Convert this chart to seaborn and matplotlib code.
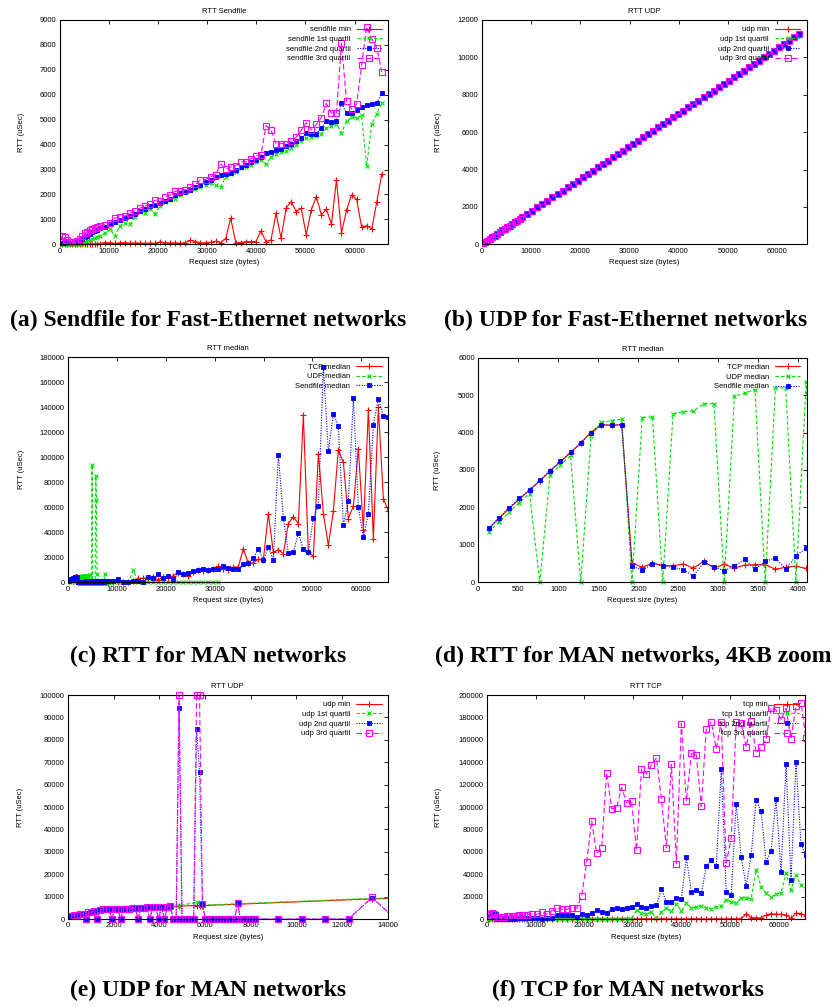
import matplotlib.pyplot as plt
import seaborn as sns
from matplotlib.patches import Rectangle

# Request sizes (bytes)
SIZES_FINE = [128, 256, 384, 512, 640, 768, 896, 1024, 1152, 1280, 1408, 1536, 1664, 1792, 1920, 2048,
              2176, 2304, 2432, 2560, 2688, 2816, 2944, 3072, 3200, 3328, 3456, 3584, 3712, 3840, 3968, 4096,
              4224, 4352, 4480, 4608, 4736, 4864, 4992, 5120, 5248, 5376, 5504, 5632, 5760, 5888, 6016, 6144,
              6272, 6400, 6528, 6656, 6784, 6912, 7040, 7168, 7296, 7424, 7552, 7680, 7808, 7936, 8064, 8192]
SIZES_COARSE = [9216, 10240, 11264, 12288, 13312, 14336, 15360, 16384, 17408, 18432, 19456, 20480, 21504,
                22528, 23552, 24576, 25600, 26624, 27648, 28672, 29696, 30720, 31744, 32768, 33792, 34816,
                35840, 36864, 37888, 38912, 39936, 40960, 41984, 43008, 44032, 45056, 46080, 47104, 48128,
                49152, 50176, 51200, 52224, 53248, 54272, 55296, 56320, 57344, 58368, 59392, 60416, 61440,
                62464, 63488, 64512, 65536]
SIZES_FE = [128, 512, 1024, 1536, 2048, 2560, 3072, 3584, 4096, 4608, 5120, 5632, 6144, 6656, 7168, 7680, 8192]

# (a) Sendfile, Fast-Ethernet (uSec)
SF_MIN = [10, 10, 20, 10, 20, 10, 20, 10, 20, 10, 20, 10, 20, 20, 10, 20, 30,
          70, 60, 40, 60, 70, 40, 60, 50, 40, 50, 40, 100, 60, 50, 60, 40, 70, 160, 110, 60,
          60, 80, 120, 70, 230, 1050, 60, 70, 110, 105, 105, 535, 105, 173, 1247, 240, 1448, 1716,
          1314, 1448, 374, 1380, 1916, 1180, 1408, 804, 2587, 450, 1380, 1984, 1810, 684, 750, 616, 1690, 2829]
SF_Q1 = [0, 0, 0, 0, 0, 0, 0, 0, 10, 30, 80, 130, 180, 220, 270, 300, 350,
         440, 600, 335, 740, 870, 820, 1110, 1290, 1250, 1420, 1230, 1550, 1700, 1780, 1820, 1980, 2090,
         2160, 2210, 2280, 2390, 2450, 2360, 2290, 2720, 2830, 2920, 3080, 3120, 3200, 3310, 3390, 3220,
         3500, 3630, 3690, 3730, 3850, 3970, 4130, 4270, 4290, 4330, 4440, 4650, 4730, 4840, 4470, 4940,
         5100, 5070, 5180, 3130, 4840, 5230, 5670]
SF_Q2 = [50, 60, 60, 70, 70, 70, 80, 80, 100, 200, 280, 350, 420, 480, 530, 580, 640,
         710, 800, 910, 980, 1050, 1140, 1230, 1340, 1420, 1520, 1580, 1650, 1740, 1820, 1980, 2050, 2100,
         2190, 2280, 2390, 2480, 2590, 2700, 2780, 2830, 2880, 2990, 3120, 3180, 3290, 3390, 3500, 3660,
         3720, 3770, 3810, 3930, 4020, 4130, 4250, 4470, 4410, 4440, 4650, 4950, 4910, 4950, 5670, 5260,
         5260, 5400, 5500, 5590, 5620, 5660, 6080]
SF_Q3 = [150, 330, 300, 160, 110, 110, 110, 120, 220, 330, 450, 500, 560, 610, 650, 700, 730,
         780, 845, 1050, 1100, 1140, 1250, 1340, 1450, 1540, 1600, 1770, 1720, 1880, 1970, 2130, 2150, 2190,
         2290, 2410, 2580, 2600, 2710, 2800, 3220, 3020, 3100, 3150, 3300, 3310, 3420, 3550, 3580, 4760,
         4590, 4040, 4040, 4040, 4140, 4300, 4570, 4880, 4590, 4810, 5080, 5650, 5270, 5270, 8070, 5750,
         5430, 5630, 7180, 8730, 8250, 7890, 6920]

# (b) UDP, Fast-Ethernet: all four quartiles coincide
UDP_FE = [50, 115, 200, 290, 380, 470, 560, 650, 740, 830, 915, 1005, 1095, 1185, 1270, 1360, 1450,
          1630, 1805, 1985, 2160, 2340, 2520, 2695, 2875, 3055, 3230, 3410, 3590, 3765, 3945, 4120, 4300,
          4480, 4655, 4835, 5015, 5190, 5370, 5550, 5725, 5905, 6080, 6260, 6440, 6615, 6795, 6975, 7150,
          7330, 7510, 7685, 7865, 8040, 8220, 8400, 8575, 8755, 8935, 9110, 9290, 9470, 9645, 9825, 10000,
          10180, 10360, 10535, 10715, 10895, 11070, 11250]

# (c)/(d)/(f) medians, MAN
TCP_MED = [1430, 1700, 1970, 2220, 2460, 2710, 2970, 3220, 3460, 3720, 4000, 4210, 4200, 4210, 520, 400,
           510, 450, 440, 490, 380, 560, 380, 480, 380, 460, 470, 470, 350, 400, 430, 370,
           400, 450, 500, 420, 480, 520, 450, 400, 500, 550, 470, 430, 500, 520, 480, 450,
           500, 540, 470, 500, 530, 480, 510, 550, 500, 470, 520, 560, 500, 530, 550, 600,
           600, 500, 400, 500, 800, 3200, 3200, 3700, 4000, 1900, 4500, 3700, 5300, 7700, 6400, 5100,
           8500, 9900, 9300, 10000, 10500, 13000, 10500, 10000, 12000, 12500, 26700, 15300, 15500, 18500,
           18000, 55000, 24000, 26000, 23000, 47000, 52500, 47000, 134000, 24500, 21000, 103000, 55000,
           29500, 57000, 106000, 96000, 51000, 61000, 107000, 42000, 138000, 35000, 140000, 67000, 57000]
SF_MED = [1440, 1720, 1990, 2240, 2470, 2720, 2980, 3230, 3470, 3730, 4000, 4210, 4190, 4210, 440, 320,
          490, 440, 400, 340, 170, 530, 420, 310, 440, 610, 350, 560, 650, 350, 700, 920,
          800, 500, 600, 900, 450, 700, 1000, 550, 650, 800, 1200, 600, 700, 900, 500, 750,
          1100, 650, 800, 600, 950, 700, 1300, 800, 600, 900, 1000, 700, 850, 1200, 900, 1000,
          1300, 2400, 500, 500, 1000, 1300, 500, 4300, 3700, 6400, 3200, 5300, 2700, 8000, 6400, 7200,
          9100, 10100, 10700, 9600, 10700, 10700, 13000, 11700, 10700, 10700, 14400, 15200, 19200, 26700,
          17900, 28000, 17900, 101900, 51700, 23200, 24000, 39200, 26400, 24300, 51200, 61100, 172000,
          104700, 134700, 125100, 45900, 65100, 147200, 60000, 36000, 55000, 126000, 147000, 133000, 132000]
UDP_MED = [1350, 1610, 1870, 2130, 2370, 0, 2870, 3130, 3390, 0, 3900, 4270, 4320, 4360, 0, 4400,
           4420, 0, 4490, 4560, 4580, 4770, 4770, 0, 4970, 5050, 5150, 0, 5190, 5190, 0, 5360,
           0, 5500, 5600, 0, 0, 94000, 0, 0, 0, 0, 0, 85000, 65500, 6500,
           0, 0, 0, 0, 0, 0, 0, 0, 0, 0, 0, 7000, 0, 0, 0, 0, 0, 0,
           0, 0, 0, 0, 9500, 0, 0, 0, 0, 0, 0, 0, 0, 0, 0, 0, 0, 0, 0, 0, 0, 0]

# (e) UDP quartiles, MAN
UDP_Q3 = [1400, 1660, 1920, 2180, 2420, 0, 2920, 3180, 3440, 0, 3950, 4320, 4370, 4410, 0, 4450,
          4470, 0, 4540, 4610, 4630, 4820, 4820, 0, 5020, 5100, 5200, 0, 5240, 5240, 0, 5410,
          0, 5550, 5650, 0, 0, 100000, 0, 0, 0, 0, 0, 100000, 100000, 6500,
          0, 0, 0, 0, 0, 0, 0, 0, 0, 0, 0, 7200, 0, 0, 0, 0, 0, 0,
          0, 0, 0, 0, 9700, 0]
UDP_OK_SIZES = [128, 256, 384, 512, 640, 896, 1024, 1152, 1408, 1536, 1664, 1792, 2048, 2176, 2432, 2560,
                2688, 2816, 2944, 3200, 3328, 3456, 3712, 3840, 4096, 4352, 4480, 4864, 5632, 5760, 5888,
                7424, 13312, 16384]
UDP_MAN_MIN = [1300, 1560, 1820, 2080, 2320, 2820, 3080, 3340, 3850, 4220, 4270, 4310, 4350, 4370, 4440,
               4510, 4530, 4720, 4720, 4920, 5000, 5100, 5140, 5140, 5300, 5450, 5550, 5800, 6000, 5900,
               6000, 6600, 9000, 9700]
UDP_MAN_Q1 = [1330, 1590, 1850, 2110, 2350, 2850, 3110, 3370, 3880, 4250, 4300, 4340, 4380, 4400, 4470,
              4540, 4560, 4750, 4750, 4950, 5030, 5130, 5170, 5170, 5340, 5480, 5580, 6000, 7400, 6500,
              6200, 6800, 9200, 9900]

# (f) TCP quartiles, MAN
TCP_MIN = [100, 80, 120, 90, 60, 100, 80, 120, 90, 100, 70, 110, 90, 100, 80, 120, 100,
           150, 200, 100, 180, 120, 200, 150, 100, 180, 200, 150, 120, 200, 180, 150, 100, 200, 150, 180,
           120, 200, 150, 180, 200, 120, 150, 200, 180, 100, 150, 200, 120, 180, 150, 200, 100, 150, 180,
           200, 120, 150, 200, 180, 4500, 1200, 1000, 1000, 3500, 4800, 4200, 4200, 3500, 600, 5300, 4800, 3000]
TCP_Q1 = [300, 200, 250, 200, 150, 200, 250, 200, 150, 200, 250, 200, 300, 250, 200, 300, 250,
          300, 250, 200, 300, 250, 200, 300, 250, 300, 200, 250, 300, 200, 250, 300, 250, 200, 300, 250,
          300, 200, 8000, 5000, 4200, 6500, 900, 6000, 9800, 6800, 13400, 7400, 14000, 10100, 10400, 11900,
          9800, 9200, 11000, 11600, 17000, 15500, 14000, 19000, 18700, 18200, 43800, 28900, 22900, 19900,
          22000, 23500, 40800, 26000, 39300, 30400, 27400]
TCP_Q3 = [3500, 4500, 5000, 4800, 1500, 1700, 1900, 2100, 2300, 2500, 2700, 2900, 3100, 3300, 3500, 3700, 3900,
          4200, 4200, 6000, 4200, 7400, 9500, 8600, 8600, 10100, 9500, 20500, 51000, 87500, 58500, 63500,
          130500, 98500, 99000, 117500, 104000, 105000, 61500, 134000, 129500, 137500, 144000, 107000, 63500,
          138000, 49500, 174500, 105000, 148000, 146500, 100500, 170000, 176000, 152000, 176000, 50000, 72000,
          175500, 175000, 153500, 177000, 148000, 153500, 160500, 188500, 186500, 178000, 188000, 160500,
          190500, 193000, 161500]

sns.set_theme(style="white")
plt.rcParams["font.family"] = ["Liberation Sans", "DejaVu Sans"]
plt.rcParams.update({
    "xtick.direction": "in", "ytick.direction": "in",
    "xtick.top": True, "ytick.right": True,
    "xtick.major.size": 2.6, "ytick.major.size": 2.6,
    "xtick.major.width": 0.6, "ytick.major.width": 0.6,
    "axes.edgecolor": "black", "axes.linewidth": 0.8,
    "xtick.color": "black", "ytick.color": "black",
    "text.color": "black", "axes.labelcolor": "black",
})

W, H = 832, 1007
fig = plt.figure(figsize=(W / 100, H / 100), dpi=100)

RED, GREEN, BLUE, MAGENTA = "#ff0000", "#00e000", "#0000ff", "#ff00ff"
STYLES = {
    "min": dict(color=RED, linestyle="-", marker="+", markersize=4, markeredgewidth=0.8, markeredgecolor=RED),
    "q1": dict(color=GREEN, linestyle=(0, (3, 2)), marker="x", markersize=3.2, markeredgewidth=0.8,
               markeredgecolor=GREEN),
    "q2": dict(color=BLUE, linestyle=(0, (1, 1.3)), marker="s", markersize=2.8, markeredgewidth=0.6,
               markeredgecolor=BLUE, markerfacecolor=BLUE),
    "q3": dict(color=MAGENTA, linestyle=(0, (5, 2.5)), marker="s", markersize=4, markeredgewidth=0.8,
               markeredgecolor=MAGENTA, markerfacecolor="none"),
}
FS = 5.5


def serie(ax, x, y, style, label):
    sns.lineplot(x=x, y=y, ax=ax, label=label, errorbar=None, linewidth=0.8, **STYLES[style])


def panel(box, title, xlim, xticks, ylim, yticks, ylab_x):
    left, top, right, bottom = box
    ax = fig.add_axes([left / W, 1 - bottom / H, (right - left) / W, (bottom - top) / H])
    ax.set_title(title, fontsize=FS, pad=5)
    ax.set_xlim(*xlim)
    ax.set_ylim(*ylim)
    ax.set_xticks(xticks, [str(t) for t in xticks])
    ax.set_yticks(yticks, [str(t) for t in yticks])
    ax.tick_params(labelsize=FS, pad=2.5)
    ax.set_xlabel("Request size (bytes)", fontsize=FS, labelpad=3)
    ax.set_ylabel("RTT (uSec)", fontsize=FS)
    ax.yaxis.set_label_coords((ylab_x - left) / (right - left), 0.5)
    return ax


def finish(ax, caption_text, caption_x, caption_y):
    # let markers sitting on y=0 show whole, as gnuplot draws them
    pad = 4 / (ax.get_position().height * H)
    clip = Rectangle((0, -pad), 1, 1 + 2 * pad, transform=ax.transAxes)
    for ln in ax.lines:
        ln.set_clip_path(clip)
    ax.legend(loc="upper right", frameon=False, markerfirst=False, fontsize=FS, handlelength=3.3,
              handletextpad=0.8, labelspacing=0.3, borderaxespad=0.4, numpoints=1)
    fig.text(caption_x / W, 1 - caption_y / H, caption_text, ha="center", va="center", fontsize=17,
             fontweight="bold", family="Liberation Serif", color="black")


X_FE = SIZES_FE + SIZES_COARSE
X_MAN = SIZES_FINE + SIZES_COARSE

# (a)
ax = panel((59.5, 20, 388, 244.3), "RTT Sendfile", (0, 66800), list(range(0, 60001, 10000)),
           (0, 9000), list(range(0, 9001, 1000)), 25)
serie(ax, X_FE, SF_MIN, "min", "sendfile min")
serie(ax, X_FE, SF_Q1, "q1", "sendfile 1st quartil")
serie(ax, X_FE, SF_Q2, "q2", "sendfile 2nd quartil")
serie(ax, X_FE, SF_Q3, "q3", "sendfile 3rd quartil")
finish(ax, "(a) Sendfile for Fast-Ethernet networks", 208, 320)

# (b)
ax = panel((482, 20, 806.5, 244.3), "RTT UDP", (0, 66000), list(range(0, 60001, 10000)),
           (0, 12000), list(range(0, 12001, 2000)), 442)
X_B = SIZES_FE + SIZES_COARSE[:-1]
serie(ax, X_B, UDP_FE, "min", "udp min")
serie(ax, X_B, UDP_FE, "q1", "udp 1st quartil")
serie(ax, X_B, UDP_FE, "q2", "udp 2nd quartil")
serie(ax, X_B, UDP_FE, "q3", "udp 3rd quartil")
finish(ax, "(b) UDP for Fast-Ethernet networks", 626, 320)

# (c)
ax = panel((68.3, 357.3, 387.7, 582.3), "RTT median", (0, 65400), list(range(0, 60001, 10000)),
           (0, 180000), list(range(0, 180001, 20000)), 25)
serie(ax, X_MAN, TCP_MED, "min", "TCP median")
serie(ax, SIZES_FINE + SIZES_COARSE[:22], UDP_MED, "q1", "UDP median")
serie(ax, X_MAN, SF_MED, "q2", "Sendfile median")
finish(ax, "(c) RTT for MAN networks", 208, 656)

# (d)
ax = panel((478.3, 357.7, 806.5, 582.3), "RTT median", (0, 4100), list(range(0, 4001, 500)),
           (0, 6000), list(range(0, 6001, 1000)), 441)
serie(ax, X_MAN, TCP_MED, "min", "TCP median")
serie(ax, SIZES_FINE + SIZES_COARSE[:22], UDP_MED, "q1", "UDP median")
serie(ax, X_MAN, SF_MED, "q2", "Sendfile median")
finish(ax, "(d) RTT for MAN networks, 4KB zoom", 633, 656)

# (e)
ax = panel((68, 695, 387.7, 919), "RTT UDP", (0, 14000), list(range(0, 14001, 2000)),
           (0, 100000), list(range(0, 100001, 10000)), 24)
serie(ax, UDP_OK_SIZES, UDP_MAN_MIN, "min", "udp min")
serie(ax, UDP_OK_SIZES, UDP_MAN_Q1, "q1", "udp 1st quartil")
serie(ax, SIZES_FINE + SIZES_COARSE[:22], UDP_MED, "q2", "udp 2nd quartil")
serie(ax, SIZES_FINE + SIZES_COARSE[:6], UDP_Q3, "q3", "udp 3rd quartil")
finish(ax, "(e) UDP for MAN networks", 208, 990)

# (f)
ax = panel((487, 695, 805.3, 919), "RTT TCP", (0, 65400), list(range(0, 60001, 10000)),
           (0, 200000), list(range(0, 200001, 20000)), 442)
serie(ax, X_FE, TCP_MIN, "min", "tcp min")
serie(ax, X_FE, TCP_Q1, "q1", "tcp 1st quartil")
serie(ax, X_MAN, TCP_MED, "q2", "tcp 2nd quartil")
serie(ax, X_FE, TCP_Q3, "q3", "tcp 3rd quartil")
finish(ax, "(f) TCP for MAN networks", 628, 990)

fig.savefig("out.png", dpi=100, facecolor="white")
